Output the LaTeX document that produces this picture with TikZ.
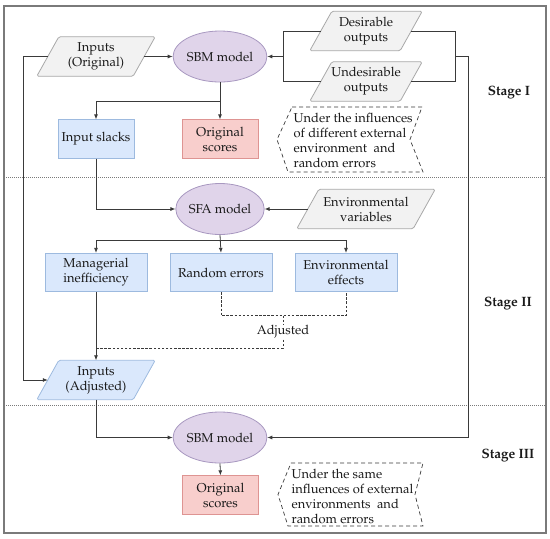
\documentclass[tikz,border=0pt]{standalone}
\usepackage[T1]{fontenc}
\renewcommand{\rmdefault}{ppl}
\usetikzlibrary{shapes.geometric,arrows.meta,calc}
\pgfdeclarelayer{bg}
\pgfsetlayers{bg,main}
\definecolor{grayfill}{HTML}{F2F2F2}
\definecolor{graydraw}{HTML}{A8A8A8}
\definecolor{purfill}{HTML}{E0D4EA}
\definecolor{purdraw}{HTML}{A898C0}
\definecolor{bluefill}{HTML}{DAE8FC}
\definecolor{bluedraw}{HTML}{9DBADF}
\definecolor{redfill}{HTML}{F8CECC}
\definecolor{reddraw}{HTML}{DE9492}
\definecolor{linecol}{HTML}{3A3A3A}
\definecolor{framecol}{HTML}{7A7A7A}
\definecolor{txtcol}{HTML}{1A1A1A}
\newcommand\mypara[3]{%
  \draw[fill=#2,draw=#3,line width=0.8pt,rounded corners=1.5pt]
    ($(#1.south west)+(-11,0)$) -- ($(#1.south east)+(-11,0)$) --
    ($(#1.north east)+(11,0)$) -- ($(#1.north west)+(11,0)$) -- cycle;}
\begin{document}
\begin{tikzpicture}[x=1pt,y=-1pt,
  font=\fontsize{12.9}{15}\selectfont, text=txtcol,
  para/.style={rectangle,minimum height=39,minimum width=#1,align=center,inner sep=0},
  ell/.style={ellipse,fill=purfill,draw=purdraw,line width=0.8pt,minimum width=76,minimum height=51,inner sep=0},
  bbox/.style={rectangle,fill=bluefill,draw=bluedraw,line width=0.8pt,minimum width=#1,minimum height=38.5,align=center,inner sep=0},
  rbox/.style={rectangle,fill=redfill,draw=reddraw,line width=0.8pt,minimum width=76,minimum height=38.5,align=center,inner sep=0},
  chtext/.style={align=left,anchor=west,inner sep=0},
  stage/.style={font=\fontsize{13.5}{15}\selectfont\bfseries},
  conn/.style={draw=linecol,line width=0.8pt},
  arr/.style={conn,-{Latex[length=5pt,width=4pt]}},
  dsh/.style={draw=linecol,line width=0.8pt,dash pattern=on 2.5pt off 1.6pt},
  chev/.style={draw=linecol,line width=0.7pt,dash pattern=on 4pt off 3pt}
]
\useasboundingbox (0,0) rectangle (550,539);
% frame and separators
\draw[framecol,line width=1.2pt] (4,6) rectangle (546,533);
\draw[framecol,line width=0.7pt,dash pattern=on 1pt off 1pt] (4,177.5) -- (546,177.5);
\draw[framecol,line width=0.7pt,dash pattern=on 1pt off 1pt] (4,405.5) -- (546,405.5);

% Stage I
\node[para=96] (in1) at (96,56.5) {Inputs\\(Original)};
\node[ell] (sbm1) at (220,56.5) {SBM model};
\node[para=90] (do) at (366,31) {Desirable\\outputs};
\node[para=90] (uo) at (366,81.5) {Undesirable\\outputs};
\node[bbox=76] (is) at (96,139) {Input slacks};
\node[rbox] (os1) at (220,139) {Original\\scores};
\node[chtext] (ch1) at (293.5,140) {Under the influences\\of different external\\environment~ and\\random errors};
\node[stage] (st1) at (509,92) {Stage I};

% Stage II
\node[ell] (sfa) at (220,209) {SFA model};
\node[para=116] (ev) at (366,209) {Environmental\\variables};
\node[bbox=102] (mi) at (96,272.5) {Managerial\\inefficiency};
\node[bbox=102] (re) at (221,272.5) {Random errors};
\node[bbox=102] (ee) at (346,272.5) {Environmental\\effects};
\node[inner sep=1pt] (adj) at (283,332) {Adjusted};
\node[para=96] (in2) at (96,380) {Inputs\\(Adjusted)};
\node[stage] (st2) at (508,303) {Stage II};

% Stage III
\node[ell] (sbm3) at (220,437.5) {SBM model};
\node[rbox] (os3) at (220.5,495) {Original\\scores};
\node[chtext] (ch3) at (291.5,496) {Under the same\\influences of external\\environments~ and\\random errors};
\node[stage] (st3) at (508,455) {Stage III};

% parallelogram backgrounds
\begin{pgfonlayer}{bg}
\mypara{in1}{grayfill}{graydraw}
\mypara{do}{grayfill}{graydraw}
\mypara{uo}{grayfill}{graydraw}
\mypara{ev}{grayfill}{graydraw}
\mypara{in2}{bluefill}{bluedraw}
\end{pgfonlayer}

% chevrons
\begin{scope}[shift={(350,139.5)}]
\draw[chev] (-58,-32.5) -- (72,-32.5) -- (60,0) -- (73,32.5) -- (-62,32.5) -- (-73,0) -- cycle;
\end{scope}
\begin{scope}[shift={(350,494.5)}]
\draw[chev] (-59,-31.5) -- (73,-31.5) -- (65,0) -- (73,31.5) -- (-62,31.5) -- (-72,0) -- cycle;
\end{scope}

% coordinates
\coordinate (lx) at (23,0);
\coordinate (bl) at (283,0);
\coordinate (br) at (455,0);
\coordinate (rx) at (468,0);
\coordinate (j1) at (0,101);
\coordinate (j2) at (0,240.5);
\coordinate (j3) at (0,315.5);
\coordinate (j4) at (0,348);

% Stage I connectors
\draw[arr] (in1.east) -- (sbm1.west);
\draw[conn] (do.west) -- (bl |- do.west) -- (bl |- uo.west) -- (uo.west);
\draw[arr] (bl |- sbm1.east) -- (sbm1.east);
\draw[conn] (do.east) -- (br |- do.east) -- (br |- uo.east) -- (uo.east);
\draw[arr] (br |- sbm1.east) -- (rx |- sbm1.east) -- (rx |- sbm3.east) -- (sbm3.east);
\draw[arr] (sbm1.south) -- (os1.north);
\draw[arr] (sbm1.south |- j1) -| (is.north);
\draw[arr] (in1.west) -- (lx |- in1.west) |- (in2.west);

% Stage II connectors
\draw[arr] (is.south) |- (sfa.west);
\draw[arr] (ev.west) -- (sfa.east);
\draw[arr] (sfa.south) -- (re.north);
\draw[arr] (sfa.south |- j2) -| (mi.north);
\draw[arr] (sfa.south |- j2) -| (ee.north);
\draw[dsh] (re.south) |- (adj.north |- j3) -| (ee.south);
\draw[dsh] (adj.north |- j3) -- (adj.north);
\draw[dsh] (adj.south) |- (in2.north |- j4);
\draw[arr] (mi.south) -- (in2.north);

% Stage III connectors
\draw[arr] (in2.south) |- (sbm3.west);
\draw[arr] (sbm3.south) -- (os3.north);
\end{tikzpicture}
\end{document}
